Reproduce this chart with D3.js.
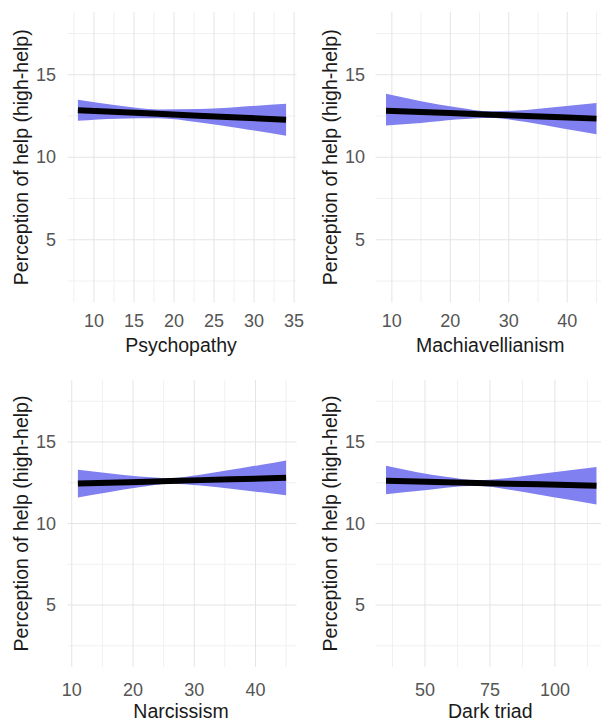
<!DOCTYPE html>
<html>
<head>
<meta charset="utf-8">
<script src="https://cdn.jsdelivr.net/npm/d3@7"></script>
<style>
  body { margin: 0; background: #fff; }
  svg { display: block; }
  text { font-family: "Liberation Sans", Arial, sans-serif; }
</style>
</head>
<body>
<svg id="chart" width="601" height="727"></svg>
<script>
// values (fit line + confidence band)
const yTitle = "Perception of help (high-help)";
const yTicks = [5, 10, 15];
const yMinor = [2.5, 7.5, 12.5, 17.5];

const psychX = [8, 13, 18, 23, 28, 34];
const psychFit = [12.85, 12.74, 12.63, 12.52, 12.41, 12.27];
const psychLo = [12.21, 12.34, 12.36, 12.12, 11.77, 11.30];
const psychHi = [13.49, 13.14, 12.90, 12.92, 13.05, 13.24];
const psychTicks = [10, 15, 20, 25, 30, 35];

const machX = [9, 15, 21, 27, 33, 39, 45];
const machFit = [12.82, 12.74, 12.66, 12.58, 12.50, 12.42, 12.34];
const machLo = [11.93, 12.08, 12.29, 12.38, 12.13, 11.76, 11.39];
const machHi = [13.85, 13.40, 13.03, 12.78, 12.87, 13.08, 13.29];
const machTicks = [10, 20, 30, 40];

const narcX = [11, 16, 21, 26, 31, 36, 41, 45];
const narcFit = [12.45, 12.50, 12.55, 12.61, 12.66, 12.71, 12.76, 12.80];
const narcLo = [11.60, 11.92, 12.22, 12.44, 12.33, 12.13, 11.91, 11.73];
const narcHi = [13.30, 13.08, 12.88, 12.78, 12.99, 13.29, 13.61, 13.87];
const narcTicks = [10, 20, 30, 40];

const darkX = [35, 47, 58, 70, 82, 94, 105, 116];
const darkFit = [12.62, 12.57, 12.53, 12.49, 12.44, 12.40, 12.36, 12.31];
const darkLo = [11.80, 11.99, 12.20, 12.32, 12.09, 11.77, 11.47, 11.16];
const darkHi = [13.54, 13.15, 12.86, 12.66, 12.79, 13.03, 13.25, 13.46];
const darkTicks = [50, 75, 100];

const svg = d3.select("#chart");

const cols = [
  { x0: 67.5, x1: 296.5, titleX: 28, tickRight: 56 },
  { x0: 375.5, x1: 607, titleX: 337, tickRight: 365 }
];
const rows = [
  { y0: 12, y1: 302.5, tickY: 327, titleY: 352 },
  { y0: 380, y1: 667, tickY: 696, titleY: 718 }
];

const panels = [
  { name: "Psychopathy", x: psychX, fit: psychFit, lo: psychLo, hi: psychHi, ticks: psychTicks, col: 0, row: 0 },
  { name: "Machiavellianism", x: machX, fit: machFit, lo: machLo, hi: machHi, ticks: machTicks, col: 1, row: 0 },
  { name: "Narcissism", x: narcX, fit: narcFit, lo: narcLo, hi: narcHi, ticks: narcTicks, col: 0, row: 1 },
  { name: "Dark triad", x: darkX, fit: darkFit, lo: darkLo, hi: darkHi, ticks: darkTicks, col: 1, row: 1 }
];

panels.forEach(p => {
  const c = cols[p.col], r = rows[p.row];
  const g = svg.append("g");

  const ext = d3.extent(p.x);
  const pad = (ext[1] - ext[0]) * 0.05;
  const x = d3.scaleLinear().domain([ext[0] - pad, ext[1] + pad]).range([c.x0, c.x1]);
  const y = d3.scaleLinear().domain([1.2, 18.8]).range([r.y1, r.y0]);

  // minor x gridlines halfway between major ticks
  const step = p.ticks[1] - p.ticks[0];
  const xMinor = [p.ticks[0] - step / 2].concat(p.ticks.map(t => t + step / 2))
    .filter(v => v >= x.domain()[0] && v <= x.domain()[1]);

  g.selectAll(".ymin").data(yMinor).enter().append("line")
    .attr("x1", c.x0).attr("x2", c.x1)
    .attr("y1", d => y(d)).attr("y2", d => y(d))
    .attr("stroke", "#f0f0f0").attr("stroke-width", 1);
  g.selectAll(".xmin").data(xMinor).enter().append("line")
    .attr("x1", d => x(d)).attr("x2", d => x(d))
    .attr("y1", r.y0).attr("y2", r.y1)
    .attr("stroke", "#f0f0f0").attr("stroke-width", 1);
  g.selectAll(".ymaj").data(yTicks).enter().append("line")
    .attr("x1", c.x0).attr("x2", c.x1)
    .attr("y1", d => y(d)).attr("y2", d => y(d))
    .attr("stroke", "#e4e4e4").attr("stroke-width", 1);
  g.selectAll(".xmaj").data(p.ticks).enter().append("line")
    .attr("x1", d => x(d)).attr("x2", d => x(d))
    .attr("y1", r.y0).attr("y2", r.y1)
    .attr("stroke", "#e4e4e4").attr("stroke-width", 1);

  const pts = p.x.map((v, i) => ({ x: v, fit: p.fit[i], lo: p.lo[i], hi: p.hi[i] }));

  const band = d3.area()
    .x(d => x(d.x))
    .y0(d => y(d.lo))
    .y1(d => y(d.hi))
    .curve(d3.curveMonotoneX);
  g.append("path").datum(pts)
    .attr("d", band)
    .attr("fill", "#8080f0");

  const line = d3.line().x(d => x(d.x)).y(d => y(d.fit));
  g.append("path").datum(pts)
    .attr("d", line)
    .attr("fill", "none")
    .attr("stroke", "#000")
    .attr("stroke-width", 6);

  // tick labels
  g.selectAll(".xt").data(p.ticks).enter().append("text")
    .attr("x", d => x(d)).attr("y", r.tickY)
    .attr("text-anchor", "middle")
    .attr("font-size", 18).attr("fill", "#555")
    .text(d => d);
  g.selectAll(".yt").data(yTicks).enter().append("text")
    .attr("x", c.tickRight).attr("y", d => y(d) + 6)
    .attr("text-anchor", "end")
    .attr("font-size", 18).attr("fill", "#555")
    .text(d => d);

  // titles
  g.append("text")
    .attr("x", (c.x0 + c.x1) / 2 - 1).attr("y", r.titleY)
    .attr("text-anchor", "middle")
    .attr("font-size", 19.5).attr("fill", "#1a1a1a")
    .text(p.name);
  g.append("text")
    .attr("transform", `translate(${c.titleX},${(r.y0 + r.y1) / 2}) rotate(-90)`)
    .attr("text-anchor", "middle")
    .attr("font-size", 19.5).attr("fill", "#1a1a1a")
    .text(yTitle);
});
</script>
</body>
</html>
